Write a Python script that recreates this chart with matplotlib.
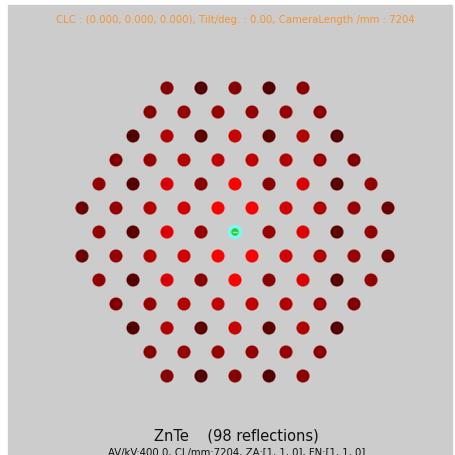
import numpy as np
import matplotlib.pyplot as plt

# ZnTe, zone axis [1 1 0]: spot (h, -h, l) drawn at x = l, y = h
row_h = [-6, -5, -4, -3, -2, -1, 0, 1, 2, 3, 4, 5, 6]
row_lmax = [4, 5, 6, 7, 8, 9, 8, 9, 8, 7, 6, 5, 4]

# spot brightness (red channel, 0-255), left to right
intensity = [
    [136, 85, 136, 85, 136],
    [136, 152, 152, 152, 152, 136],
    [85, 176, 92, 200, 92, 176, 85],
    [128, 152, 176, 192, 192, 176, 152, 128],
    [144, 88, 216, 136, 255, 136, 216, 88, 144],
    [108, 152, 176, 208, 255, 255, 208, 176, 152, 108],
    [144, 92, 224, 152, 0, 152, 224, 92, 144],
    [108, 152, 176, 208, 255, 255, 208, 176, 152, 108],
    [144, 88, 216, 136, 255, 136, 216, 88, 144],
    [128, 152, 176, 192, 192, 176, 152, 128],
    [85, 176, 92, 200, 92, 176, 85],
    [136, 152, 152, 152, 152, 136],
    [136, 85, 136, 85, 136],
]

compound = "ZnTe"
zone_axis = [1, 1, 0]
foil_normal = [1, 1, 0]
voltage_kv = 400.0
camera_length = 7204
tilt = 0.00
clc = (0.000, 0.000, 0.000)

# pixel scale of the reciprocal lattice units
px_l = 17.0
px_h = 24.0
cx, cy = 235.0, 233.0
W, H = 455, 456

xs, ys, cols = [], [], []
for h, lmax, vals in zip(row_h, row_lmax, intensity):
    ls = np.arange(-lmax, lmax + 1, 2)
    for l, v in zip(ls, vals):
        if h == 0 and l == 0:
            continue
        xs.append(l)
        ys.append(h)
        cols.append((v / 255.0, 0.0, 0.0))
n_refl = len(xs)

fig = plt.figure(figsize=(W / 100, H / 100), dpi=100)
fig.patch.set_facecolor('white')
ax = fig.add_axes([0, 0, 1, 1])
ax.set_xlim((0 - cx) / px_l, (W - cx) / px_l)
ax.set_ylim((H - cy) / px_h, (0 - cy) / px_h)
ax.axis('off')

# gray screen
x0, x1 = (8 - cx) / px_l, (452 - cx) / px_l
y0, y1 = (6 - cy) / px_h, (H - cy) / px_h
ax.add_patch(plt.Rectangle((x0, y0), x1 - x0, y1 - y0, color='#cccccc', zorder=0))

ax.scatter(xs, ys, s=84, c=cols, edgecolors='none', zorder=2)
ax.scatter(xs, ys, s=96, c=cols, edgecolors='none', alpha=0.35, zorder=1)

# direct beam
ax.scatter([0], [0], s=110, c='#7ff7f2', edgecolors='none', zorder=3)
ax.scatter([0], [0], s=30, c='#2ecc40', edgecolors='none', zorder=4)
ax.plot([-0.12, 0.12], [0, 0], color='#7fff7f', lw=1.0, zorder=5)

ax.text(0.518, 1 - 20 / H,
        "CLC : (%.3f, %.3f, %.3f), Tilt/deg. : %.2f, CameraLength /mm : %d"
        % (clc[0], clc[1], clc[2], tilt, camera_length),
        transform=ax.transAxes, ha='center', va='center', fontsize=7.3,
        color='#f39530', family='DejaVu Sans')
ax.text(0.519, 1 - 436 / H, "%s    (%d reflections)" % (compound, n_refl),
        transform=ax.transAxes, ha='center', va='center', fontsize=10.5,
        color='#111111', family='DejaVu Sans')
ax.text(0.52, 1 - 452 / H,
        "AV/kV:%.1f, CL/mm:%d, ZA:[%d, %d, %d], FN:[%d, %d, %d]"
        % (voltage_kv, camera_length, *zone_axis, *foil_normal),
        transform=ax.transAxes, ha='center', va='center', fontsize=7.3,
        color='#111111', family='DejaVu Sans')

fig.savefig('out.png', dpi=100)
